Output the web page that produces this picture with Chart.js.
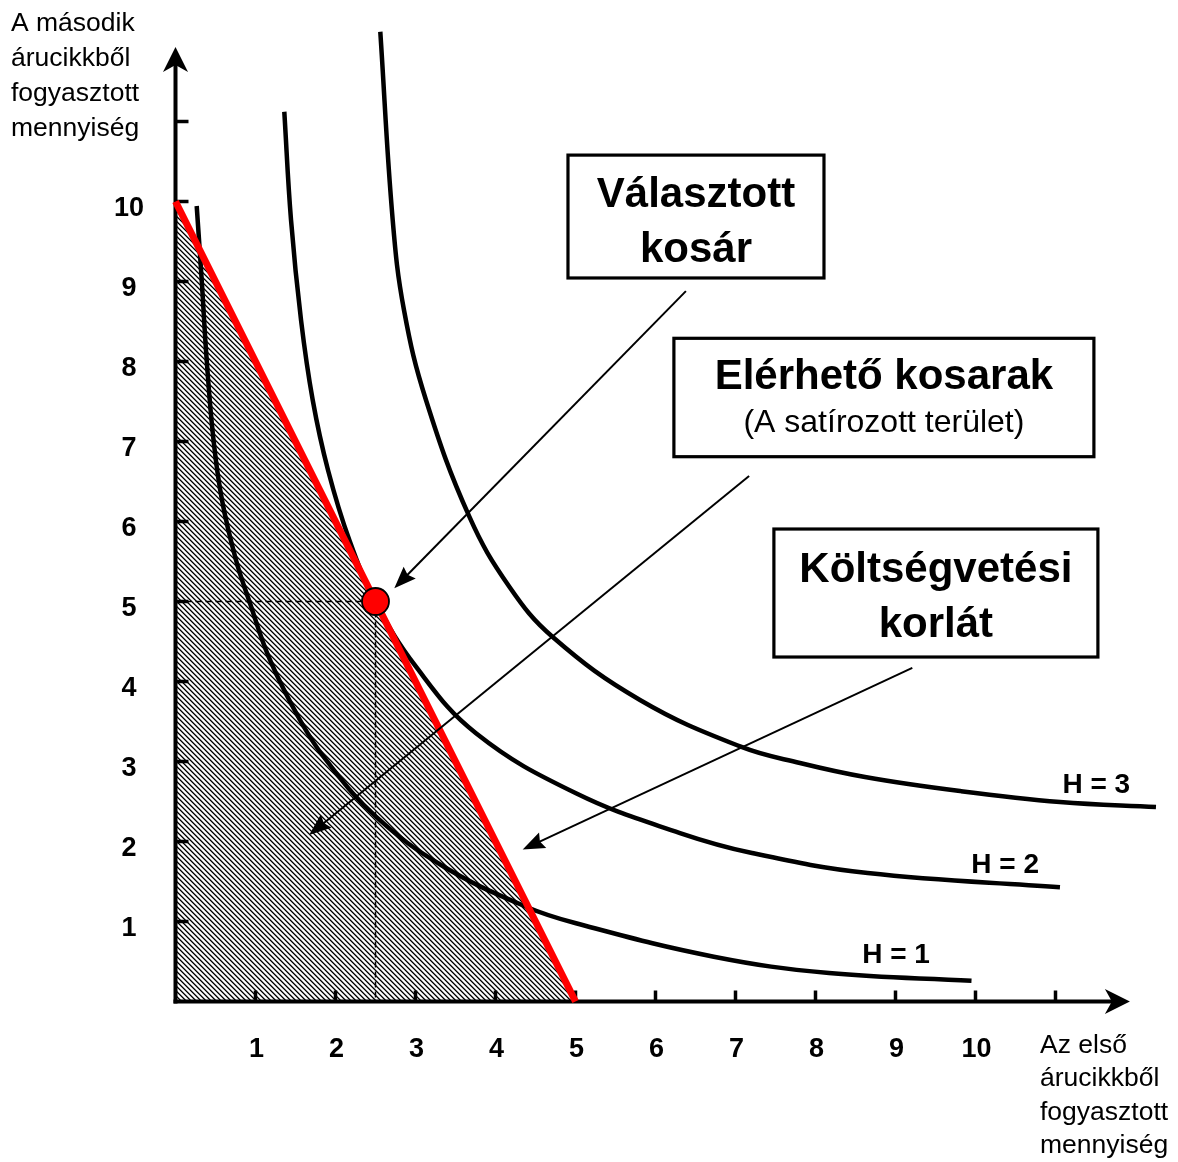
<!DOCTYPE html>
<html><head><meta charset="utf-8">
<script src="https://cdn.jsdelivr.net/npm/chart.js@4.4.1/dist/chart.umd.min.js"></script>
<style>html,body{margin:0;padding:0;background:#fff;overflow:hidden}#wrap{width:1178px;height:1162px;position:relative}</style>
</head><body><div id="wrap"><canvas id="c" width="1178" height="1162"></canvas></div>
<script>
// ---------- data ----------
const xTickValues = [1,2,3,4,5,6,7,8,9,10,11];
const xTickLabels = ['1','2','3','4','5','6','7','8','9','10',''];
const yTickValues = [1,2,3,4,5,6,7,8,9,10,11];
const yTickLabels = ['1','2','3','4','5','6','7','8','9','10',''];
const yAxisTitle = ['A második','árucikkből','fogyasztott','mennyiség'];
const xAxisTitle = ['Az első','árucikkből','fogyasztott','mennyiség'];

const budgetLine = [{x:0,y:10},{x:5,y:0}];
const chosenBasket = [{x:2.5,y:5}];
const guideLines = [{x:0,y:5},{x:2.5,y:5},{x:2.5,y:0}];

const curveH1 = [
  {x:0.265,y:9.944},{x:0.3275,y:9.019},{x:0.39,y:8.019},{x:0.475,y:7.019},{x:0.581,y:6.269},
  {x:0.756,y:5.519},{x:0.925,y:4.998},{x:1.181,y:4.269},{x:1.556,y:3.519},{x:1.881,y:3.019},
  {x:2.506,y:2.31},{x:3.34,y:1.694},{x:4.381,y:1.185},{x:5.006,y:0.978},{x:6.729,y:0.56},
  {x:8.169,y:0.356},{x:9.95,y:0.26}
];
const curveH2 = [
  {x:1.36,y:11.122},{x:1.444,y:9.769},{x:1.569,y:8.519},{x:1.715,y:7.519},{x:1.906,y:6.644},
  {x:2.173,y:5.769},{x:2.5,y:5.0},{x:3.006,y:4.185},{x:3.756,y:3.353},{x:5.006,y:2.603},
  {x:6.306,y:2.106},{x:7.206,y:1.856},{x:8.653,y:1.606},{x:11.056,y:1.428}
];
const curveH3 = [
  {x:2.56,y:12.122},{x:2.715,y:9.769},{x:2.856,y:8.644},{x:3.131,y:7.519},{x:3.673,y:6.06},
  {x:4.173,y:5.185},{x:4.715,y:4.556},{x:5.806,y:3.769},{x:7.066,y:3.185},{x:7.806,y:2.981},
  {x:8.619,y:2.806},{x:9.806,y:2.631},{x:11.056,y:2.494},{x:12.256,y:2.431}
];
const curveLabels = ['H = 1','H = 2','H = 3'];
const boxTexts = [
  ['Választott','kosár'],
  ['Elérhető kosarak','(A satírozott terület)'],
  ['Költségvetési','korlát']
];

// ---------- layout / style (not data) ----------
const FONT = '"Liberation Sans", Arial, Helvetica, sans-serif';
const VIEW = {xmin:-175.5/80, xmax:(1178-175.5)/80, ymin:(1001.5-1162)/80, ymax:1001.5/80};
const AXIS_END = {x:11.93, y:11.93};
const curveLabelPos = [{x:9.006,y:0.481},{x:10.37,y:1.606},{x:11.51,y:2.606}];
const boxLayout = [
  {x0:4.906,x1:8.106,y0:10.58,y1:9.044, lines:[{font:'bold 42px '+FONT,dy:52},{font:'bold 42px '+FONT,dy:107}]},
  {x0:6.23,x1:11.48,y0:8.29,y1:6.81, lines:[{font:'bold 42px '+FONT,dy:51},{font:'32px '+FONT,dy:94}]},
  {x0:7.48,x1:11.53,y0:5.906,y1:4.306, lines:[{font:'bold 42px '+FONT,dy:53},{font:'bold 42px '+FONT,dy:108}]}
];
const arrowLayout = [
  {from:{x:6.38,y:8.88}, to:{x:2.735,y:5.165}},
  {from:{x:7.17,y:6.57}, to:{x:1.67,y:2.08}},
  {from:{x:9.21,y:4.17}, to:{x:4.34,y:1.90}}
];

function makeHatch(){
  const n = 5;
  const shades = ['#000','#666','#f4f4f4','#fff','#bbb'];
  const c = document.createElement('canvas'); c.width = n; c.height = n;
  const g = c.getContext('2d');
  for (let y=0;y<n;y++) for (let x=0;x<n;x++) {
    const k = ((x - y) % n + n) % n;
    g.fillStyle = shades[k]; g.fillRect(x,y,1,1);
  }
  return g.createPattern(c,'repeat');
}

function arrowHead(ctx, x1,y1,x2,y2,len,half,notch){
  const a = Math.atan2(y2-y1,x2-x1);
  const c = Math.cos(a), s = Math.sin(a);
  const bx = x2 - len*c, by = y2 - len*s;
  ctx.beginPath();
  ctx.moveTo(x2,y2);
  ctx.lineTo(bx - half*s, by + half*c);
  ctx.lineTo(x2 - (len-notch)*c, y2 - (len-notch)*s);
  ctx.lineTo(bx + half*s, by - half*c);
  ctx.closePath();
  ctx.fill();
}

const axesPlugin = {
  id:'axes',
  beforeDatasetsDraw(chart){
    const ctx = chart.ctx, X = chart.scales.x, Y = chart.scales.y;
    const ox = X.getPixelForValue(0), oy = Y.getPixelForValue(0);
    ctx.save();
    ctx.strokeStyle = '#000'; ctx.fillStyle = '#000';
    ctx.lineWidth = 4; ctx.lineCap = 'butt';
    const yTop = Y.getPixelForValue(AXIS_END.y), xEnd = X.getPixelForValue(AXIS_END.x);
    ctx.beginPath(); ctx.moveTo(ox, oy+2); ctx.lineTo(ox, yTop+12); ctx.stroke();
    ctx.beginPath(); ctx.moveTo(ox-2, oy); ctx.lineTo(xEnd-12, oy); ctx.stroke();
    arrowHead(ctx, ox, oy, ox, yTop, 25, 12.5, 7);
    arrowHead(ctx, ox, oy, xEnd, oy, 25, 12.5, 7);
    ctx.lineWidth = 3.5;
    xTickValues.forEach(v=>{ const p = X.getPixelForValue(v); ctx.beginPath(); ctx.moveTo(p, oy); ctx.lineTo(p, oy-11); ctx.stroke(); });
    yTickValues.forEach(v=>{ const p = Y.getPixelForValue(v); ctx.beginPath(); ctx.moveTo(ox, p); ctx.lineTo(ox+13, p); ctx.stroke(); });
    ctx.font = 'bold 27px '+FONT; ctx.textAlign = 'center'; ctx.textBaseline = 'alphabetic';
    xTickValues.forEach((v,i)=>{ ctx.fillText(xTickLabels[i], X.getPixelForValue(v)+1, oy+55.5); });
    yTickValues.forEach((v,i)=>{ ctx.fillText(yTickLabels[i], ox-46.5, Y.getPixelForValue(v)+14); });
    ctx.font = '26.5px '+FONT; ctx.textAlign = 'left';
    yAxisTitle.forEach((t,i)=> ctx.fillText(t, 11, 31 + i*35));
    xAxisTitle.forEach((t,i)=> ctx.fillText(t, 1040, 1052.5 + i*33.6));
    ctx.restore();
  }
};

const annotPlugin = {
  id:'annot',
  afterDatasetsDraw(chart){
    const ctx = chart.ctx, X = chart.scales.x, Y = chart.scales.y;
    ctx.save();
    ctx.strokeStyle = '#000'; ctx.fillStyle = '#000'; ctx.lineWidth = 2;
    arrowLayout.forEach(a=>{
      const x1 = X.getPixelForValue(a.from.x), y1 = Y.getPixelForValue(a.from.y);
      const x2 = X.getPixelForValue(a.to.x), y2 = Y.getPixelForValue(a.to.y);
      const ang = Math.atan2(y2-y1,x2-x1);
      ctx.beginPath(); ctx.moveTo(x1,y1); ctx.lineTo(x2-14*Math.cos(ang), y2-14*Math.sin(ang)); ctx.stroke();
      arrowHead(ctx, x1,y1,x2,y2, 22, 8.5, 3);
    });
    boxLayout.forEach((b,i)=>{
      const l = X.getPixelForValue(b.x0), r = X.getPixelForValue(b.x1);
      const t = Y.getPixelForValue(b.y0), bt = Y.getPixelForValue(b.y1);
      ctx.fillStyle = '#fff'; ctx.fillRect(l,t,r-l,bt-t);
      ctx.lineWidth = 3.2; ctx.strokeStyle = '#000'; ctx.strokeRect(l,t,r-l,bt-t);
      ctx.fillStyle = '#000'; ctx.textAlign = 'center'; ctx.textBaseline = 'alphabetic';
      b.lines.forEach((ln,j)=>{ ctx.font = ln.font; ctx.fillText(boxTexts[i][j], (l+r)/2, t+ln.dy); });
    });
    ctx.font = 'bold 28px '+FONT; ctx.textAlign = 'center'; ctx.fillStyle = '#000';
    curveLabels.forEach((t,i)=> ctx.fillText(t, X.getPixelForValue(curveLabelPos[i].x), Y.getPixelForValue(curveLabelPos[i].y)));
    ctx.restore();
  }
};

const hatch = makeHatch();
const curveStyle = {borderColor:'#000', borderWidth:4.5, pointRadius:0, fill:false, tension:0.4, borderJoinStyle:'round'};

new Chart(document.getElementById('c'), {
  type:'line',
  data:{ datasets:[
    {label:'Választott kosár', data:chosenBasket, showLine:false, pointRadius:13.5, pointBackgroundColor:'#ff0000', pointBorderColor:'#000', pointBorderWidth:1.8, pointHoverRadius:13.5},
    {label:'Költségvetési korlát', data:budgetLine, borderColor:'#ff0000', borderWidth:7, pointRadius:0, fill:'origin', backgroundColor:hatch, tension:0},
    {label:'guide', data:guideLines, borderColor:'#000', borderWidth:1.5, borderDash:[6,4], pointRadius:0, fill:false, tension:0},
    Object.assign({label:'H = 1', data:curveH1}, curveStyle),
    Object.assign({label:'H = 2', data:curveH2}, curveStyle),
    Object.assign({label:'H = 3', data:curveH3}, curveStyle)
  ]},
  options:{
    responsive:false, animation:false, devicePixelRatio:1,
    layout:{padding:0, autoPadding:false},
    scales:{
      x:{type:'linear', min:VIEW.xmin, max:VIEW.xmax, display:false},
      y:{type:'linear', min:VIEW.ymin, max:VIEW.ymax, display:false}
    },
    plugins:{ legend:{display:false}, tooltip:{enabled:false}, filler:{drawTime:'beforeDatasetsDraw'} },
    events:[]
  },
  plugins:[axesPlugin, annotPlugin]
});
</script></body></html>
